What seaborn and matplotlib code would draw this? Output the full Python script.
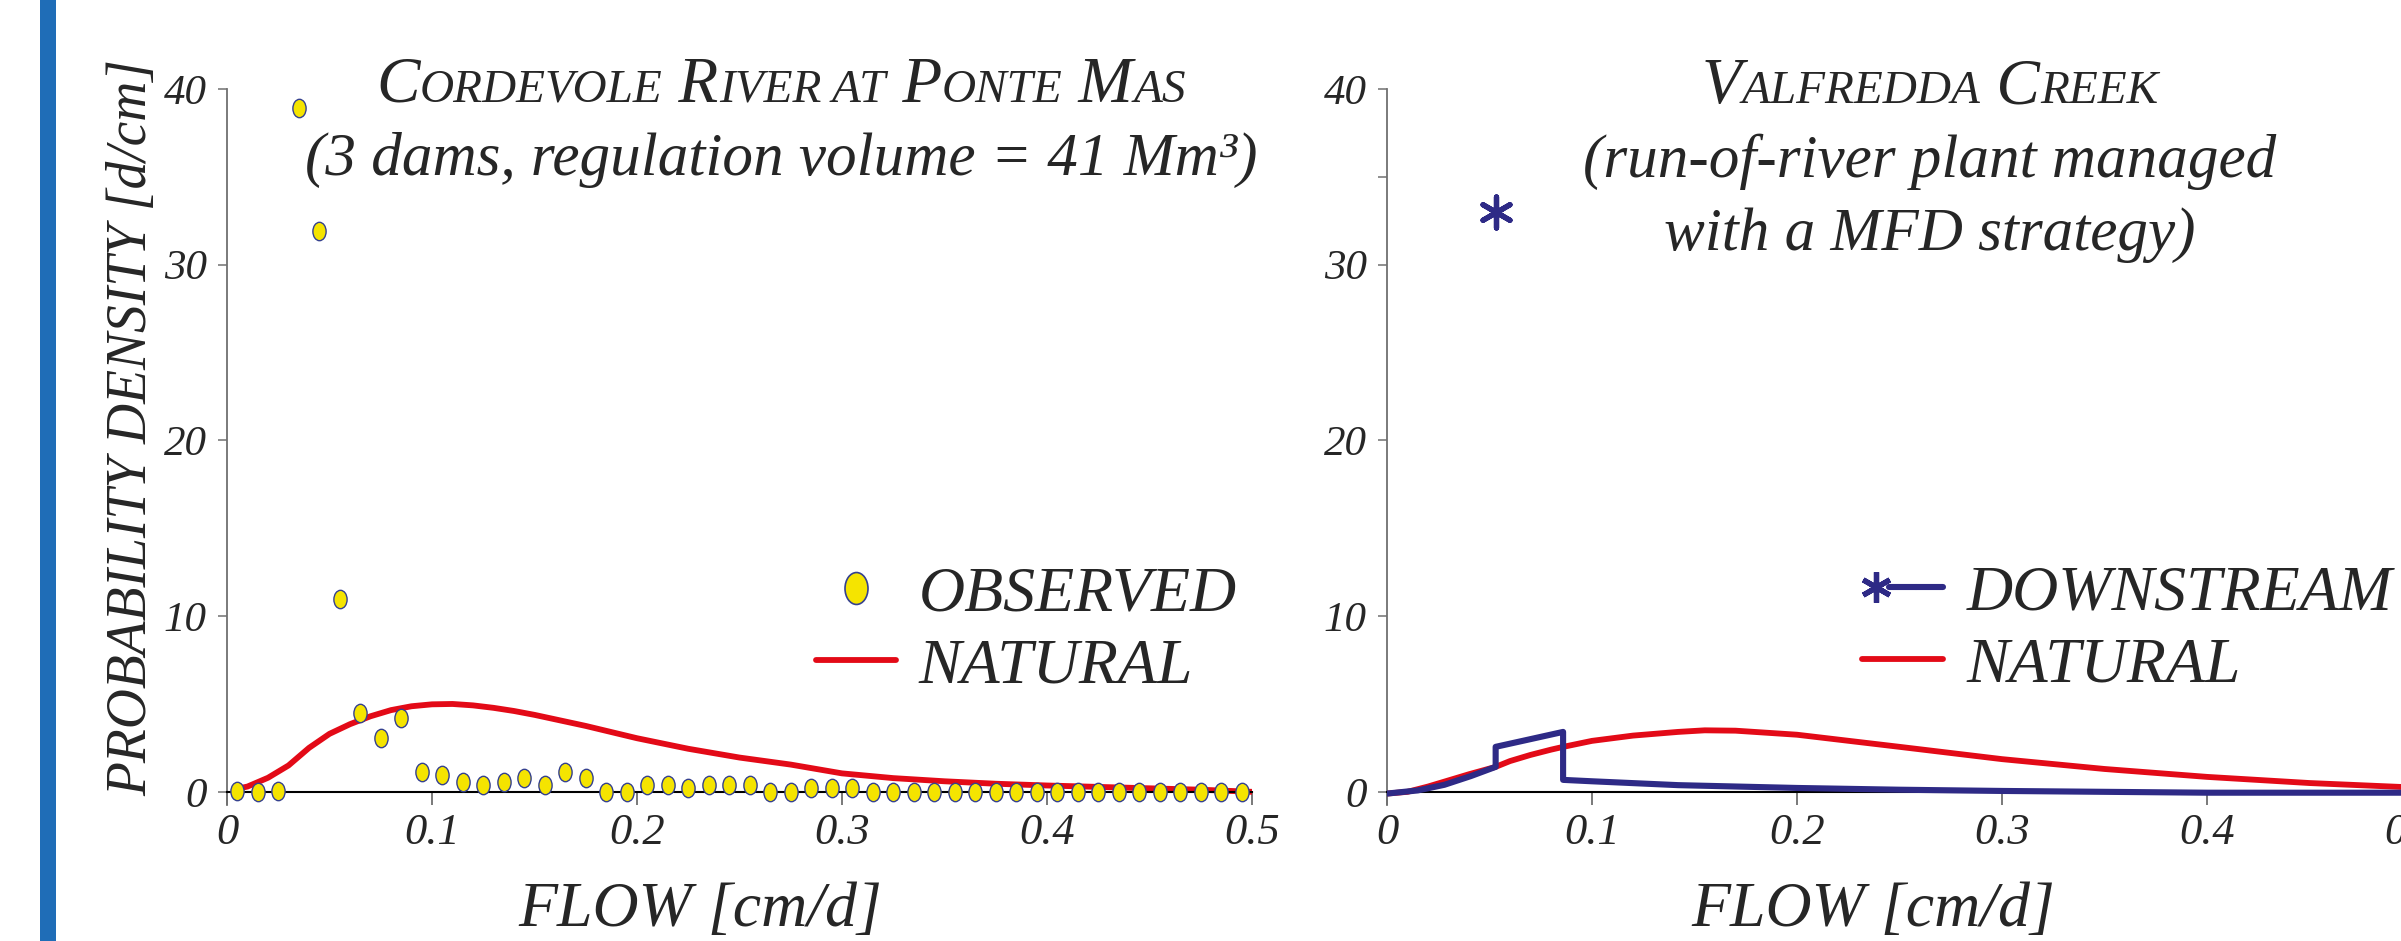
import matplotlib
matplotlib.use('Agg')
import matplotlib.pyplot as plt
import seaborn as sns
from matplotlib.path import Path
from matplotlib.markers import MarkerStyle
from matplotlib.transforms import Affine2D
from matplotlib.lines import Line2D
from matplotlib.text import Annotation
from matplotlib.patches import Rectangle
from matplotlib.legend_handler import HandlerTuple

# Cordevole River at Ponte Mas - observed pdf (one point every 0.01 cm/d)
obs_flow = [0.005, 0.015, 0.025, 0.035, 0.045, 0.055, 0.065, 0.075, 0.085, 0.095,
            0.105, 0.115, 0.125, 0.135, 0.145, 0.155, 0.165, 0.175, 0.185, 0.195,
            0.205, 0.215, 0.225, 0.235, 0.245, 0.255, 0.265, 0.275, 0.285, 0.295,
            0.305, 0.315, 0.325, 0.335, 0.345, 0.355, 0.365, 0.375, 0.385, 0.395,
            0.405, 0.415, 0.425, 0.435, 0.445, 0.455, 0.465, 0.475, 0.485, 0.495]
obs_density = [0.05, 0.0, 0.05, 38.9, 31.9, 11.0, 4.5, 3.05, 4.2, 1.15,
               0.95, 0.57, 0.38, 0.58, 0.8, 0.38, 1.15, 0.78, 0.0, 0.0,
               0.38, 0.38, 0.2, 0.38, 0.38, 0.38, 0.0, 0.0, 0.2, 0.2,
               0.2, 0.0, 0.0, 0.0, 0.0, 0.0, 0.0, 0.0, 0.0, 0.0,
               0.0, 0.0, 0.0, 0.0, 0.0, 0.0, 0.0, 0.0, 0.0, 0.0]

# Cordevole - natural pdf
nat1_flow = [0.006, 0.01, 0.02, 0.03, 0.04, 0.05, 0.06, 0.07, 0.08, 0.09, 0.10,
             0.11, 0.12, 0.13, 0.14, 0.15, 0.175, 0.20, 0.225, 0.25, 0.275, 0.30,
             0.325, 0.35, 0.375, 0.40, 0.425, 0.45, 0.475, 0.50]
nat1_density = [0.2, 0.3, 0.8, 1.5, 2.5, 3.3, 3.85, 4.3, 4.65, 4.87, 4.98,
                5.0, 4.92, 4.78, 4.6, 4.38, 3.75, 3.05, 2.45, 1.95, 1.55, 1.05,
                0.78, 0.6, 0.46, 0.36, 0.28, 0.2, 0.12, 0.0]

# Valfredda Creek - natural pdf
nat2_flow = [0.0, 0.01, 0.02, 0.03, 0.04, 0.053, 0.06, 0.07, 0.08, 0.086, 0.10,
             0.12, 0.142, 0.155, 0.17, 0.20, 0.25, 0.30, 0.35, 0.40, 0.45, 0.50]
nat2_density = [-0.1, 0.0, 0.3, 0.65, 1.0, 1.42, 1.75, 2.1, 2.4, 2.56, 2.9,
                3.2, 3.41, 3.5, 3.48, 3.25, 2.56, 1.86, 1.3, 0.85, 0.5, 0.25]

# Valfredda Creek - downstream pdf (MFD step) and point mass
down_flow = [0.0, 0.015, 0.028, 0.041, 0.053, 0.053, 0.0859, 0.0859, 0.10, 0.142,
             0.20, 0.25, 0.30, 0.35, 0.40, 0.45, 0.50]
down_density = [-0.1, 0.08, 0.4, 0.9, 1.42, 2.56, 3.41, 0.68, 0.6, 0.38,
                0.22, 0.12, 0.05, 0.0, -0.05, -0.05, -0.05]
spike_flow = [0.053]
spike_density = [33.0]

xticks = [0, 0.1, 0.2, 0.3, 0.4, 0.5]
xticklabels = ['0', '0.1', '0.2', '0.3', '0.4', '0.5']
yticks = [0, 10, 20, 30, 40]
yticklabels = ['0', '10', '20', '30', '40']

RED = '#e30a17'
BLUE = '#2e2a86'
YELLOW = '#f5e400'
EDGE = '#34408f'

sns.set_theme(style='white')
plt.rcParams['font.family'] = ['Liberation Serif', 'DejaVu Serif']
plt.rcParams['font.style'] = 'italic'

W, H = 2401, 941
fig = plt.figure(figsize=(W / 100, H / 100), dpi=100)
fig.add_artist(Rectangle((40 / W, 0), 16 / W, 1, transform=fig.transFigure,
                         color='#1f6db7', lw=0))

ax1 = fig.add_axes([227 / W, 136 / H, 1025 / W, 716 / H])
ax2 = fig.add_axes([1387 / W, 136 / H, 1025 / W, 716 / H])

# elliptical marker, taller than wide
ellipse = MarkerStyle(Path.unit_circle().transformed(Affine2D().scale(0.72, 1.0)))

for ax in (ax1, ax2):
    ax.set_xlim(0, 0.5)
    ax.set_ylim(-0.75, 40)
    ax.spines['top'].set_visible(False)
    ax.spines['right'].set_visible(False)
    ax.spines['bottom'].set_position(('data', 0))
    ax.spines['bottom'].set_color('black')
    ax.spines['bottom'].set_linewidth(1.5)
    ax.spines['left'].set_color('#707070')
    ax.spines['left'].set_linewidth(1.3)
    ax.set_xticks(xticks)
    ax.set_xticklabels(xticklabels)
    ax.set_yticks(yticks)
    ax.set_yticklabels(yticklabels)
    ax.tick_params(axis='x', direction='out', length=9.5, width=1.1, color='#555555',
                   labelsize=32, pad=6, bottom=True)
    ax.tick_params(axis='y', which='both', direction='out', length=6.5, width=1.1,
                   color='#707070', labelsize=31, pad=8, left=True)
    ax.grid(False)
    ax.set_facecolor('none')

ax2.set_yticks([35], minor=True)

# left panel
sns.lineplot(x=nat1_flow, y=nat1_density, ax=ax1, color=RED, lw=4.2,
             sort=False, estimator=None, zorder=2)
sns.scatterplot(x=obs_flow, y=obs_density, ax=ax1, marker=ellipse, s=175,
                color=YELLOW, edgecolor=EDGE, linewidth=1.0, zorder=3, clip_on=False)

# right panel
sns.lineplot(x=nat2_flow, y=nat2_density, ax=ax2, color=RED, lw=4.2,
             sort=False, estimator=None, zorder=2)
sns.lineplot(x=down_flow, y=down_density, ax=ax2, color=BLUE, lw=4.4,
             sort=False, estimator=None, zorder=3)
sns.scatterplot(x=spike_flow, y=spike_density, ax=ax2, marker=(6, 2, 0), s=500,
                color=BLUE, linewidth=3.8, zorder=4)

# axis labels
for ax, xc in ((ax1, 0.4615), (ax2, 0.474)):
    ax.set_xlabel('FLOW [cm/d]', fontsize=46, va='baseline')
    ax.xaxis.set_label_coords(xc, (15 - 136) / 716)
    ax.set_ylabel('')
ax1.set_ylabel('PROBABILITY DENSITY [d/cm]', fontsize=40, rotation=90,
               rotation_mode='anchor', ha='center', va='baseline')
ax1.yaxis.set_label_coords((146 - 227) / 1025, (513 - 136) / 716)

# legends
leg_prop = {'size': 46, 'style': 'italic', 'family': 'Liberation Serif'}
h_obs = Line2D([], [], ls='none', marker=ellipse, markersize=23,
               markerfacecolor=YELLOW, markeredgecolor=EDGE, markeredgewidth=1.2)
h_nat = Line2D([], [], color=RED, lw=4.2)
ax1.legend([h_obs, h_nat], ['OBSERVED', 'NATURAL'], loc='upper left',
           bbox_to_anchor=(816 / W, 1 - 566 / H), bbox_transform=fig.transFigure,
           frameon=False, borderpad=0, borderaxespad=0, handlelength=1.25,
           handletextpad=0.36, labelspacing=0.2, prop=leg_prop)

h_star = Line2D([], [], ls='none', marker=(6, 2, 0), markersize=22,
                markeredgecolor=BLUE, markeredgewidth=3.8)
h_down = Line2D([], [], color=BLUE, lw=4.4)
ax2.legend([(h_star, h_down, h_down), h_nat], ['DOWNSTREAM', 'NATURAL'], loc='upper left',
           bbox_to_anchor=(1862 / W, 1 - 565 / H), bbox_transform=fig.transFigure,
           frameon=False, borderpad=0, borderaxespad=0, handlelength=1.27,
           handletextpad=0.37, labelspacing=0.2, prop=leg_prop,
           handler_map={tuple: HandlerTuple(ndivide=None, pad=0)})


# titles: first line in small caps, built from chained text pieces
def small_caps(text, cx, base_y, big=47, small=34):
    words = text.split(' ')
    parts = []
    for k, word in enumerate(words):
        lead = ' ' if k > 0 else ''
        if word[0].isupper():
            parts.append((lead + word[0], big))
            if len(word) > 1:
                parts.append((word[1:].upper(), small))
        else:
            parts.append((lead + word.upper(), small))
    y = 1 - base_y / H
    first = fig.text(0, y, parts[0][0], fontsize=parts[0][1], ha='left', va='baseline')
    pieces = [first]
    prev = first
    for s, size in parts[1:]:
        t = Annotation(s, xy=(1, y), xycoords=(prev, fig.transFigure),
                       fontsize=size, ha='left', va='baseline')
        fig.add_artist(t)
        pieces.append(t)
        prev = t
    fig.canvas.draw()
    r = fig.canvas.get_renderer()
    x0 = pieces[0].get_window_extent(r).x0
    x1 = pieces[-1].get_window_extent(r).x1
    first.set_x((cx - (x1 - x0) / 2) / W)


small_caps('Cordevole River at Ponte Mas', 781, 102)
fig.text(781 / W, 1 - 175 / H, '(3 dams, regulation volume = 41 Mm³)',
         fontsize=44, ha='center', va='baseline')

small_caps('Valfredda Creek', 1930, 103)
fig.text(1930 / W, 1 - 177 / H, '(run-of-river plant managed',
         fontsize=44, ha='center', va='baseline')
fig.text(1930 / W, 1 - 250 / H, 'with a MFD strategy)',
         fontsize=44, ha='center', va='baseline')

fig.savefig('out.png', dpi=100)
